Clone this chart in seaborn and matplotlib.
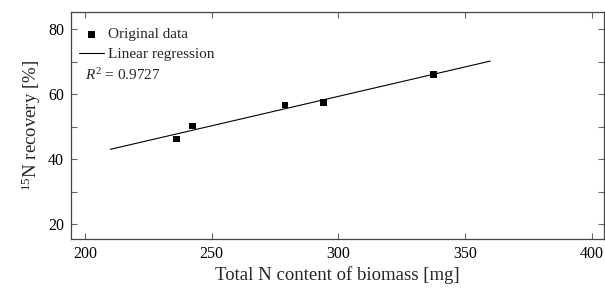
import numpy as np
import pandas as pd
import seaborn as sns
import matplotlib.pyplot as plt

# Data
n_content = [236.0, 242.4, 279.0, 294.2, 337.5]   # mg
recovery = [46.2, 50.2, 56.7, 57.5, 66.0]         # %
fit_range = [210, 360]
r2_label = "0.9727"
x_ticks = [200, 250, 300, 350, 400]
y_ticks = [20, 40, 60, 80]

sns.set_style("ticks")
plt.rcParams.update({
    'font.family': ['Liberation Serif', 'DejaVu Serif'],
    'mathtext.fontset': 'custom',
    'mathtext.rm': 'Liberation Serif',
    'mathtext.it': 'Liberation Serif:italic',
    'xtick.direction': 'in',
    'ytick.direction': 'in',
    'axes.edgecolor': '#444444',
    'xtick.color': '#666666',
    'ytick.color': '#666666',
    'xtick.labelcolor': 'black',
    'ytick.labelcolor': 'black',
})

df = pd.DataFrame({'n': n_content, 'rec': recovery})
slope, intercept = np.polyfit(df['n'], df['rec'], 1)
fit = pd.DataFrame({'n': fit_range})
fit['rec'] = intercept + slope * fit['n']

fig = plt.figure(figsize=(6.05, 2.89), dpi=100)
ax = fig.add_axes([0.1174, 0.1713, 0.8806, 0.7861])

sns.lineplot(data=fit, x='n', y='rec', color='black', linewidth=0.8,
             ax=ax, label='Linear regression')
sns.scatterplot(data=df, x='n', y='rec', marker='s', s=24, color='black',
                edgecolor='none', ax=ax, label='Original data', zorder=3)

ax.set_xlim(194.5, 404.8)
ax.set_ylim(15.3, 85.2)
ax.set_xticks(x_ticks)
ax.set_yticks(y_ticks)
ax.set_yticks([30, 50, 70], minor=True)
ax.tick_params(axis='both', which='both', top=True, right=True, labelsize=11.5,
               length=4, width=0.8, pad=5)
ax.tick_params(axis='y', which='minor', length=4)
for s in ax.spines.values():
    s.set_linewidth(0.9)

ax.set_xlabel('Total N content of biomass [mg]', fontsize=13.5, labelpad=3)
ax.set_ylabel(r'$^{15}$N recovery [%]', fontsize=13.5, labelpad=4)

handles, labels = ax.get_legend_handles_labels()
order = [labels.index('Original data'), labels.index('Linear regression')]
ax.legend([handles[i] for i in order], [labels[i] for i in order],
          loc='upper left', bbox_to_anchor=(-0.005, 0.98), frameon=False,
          fontsize=11, handlelength=1.6, handletextpad=0.3, labelspacing=0.4,
          borderaxespad=0.3)
ax.text(0.026, 0.725, rf'$R^2$ = {r2_label}', transform=ax.transAxes,
        fontsize=11, va='center', ha='left')

fig.savefig('out.png', dpi=100)
